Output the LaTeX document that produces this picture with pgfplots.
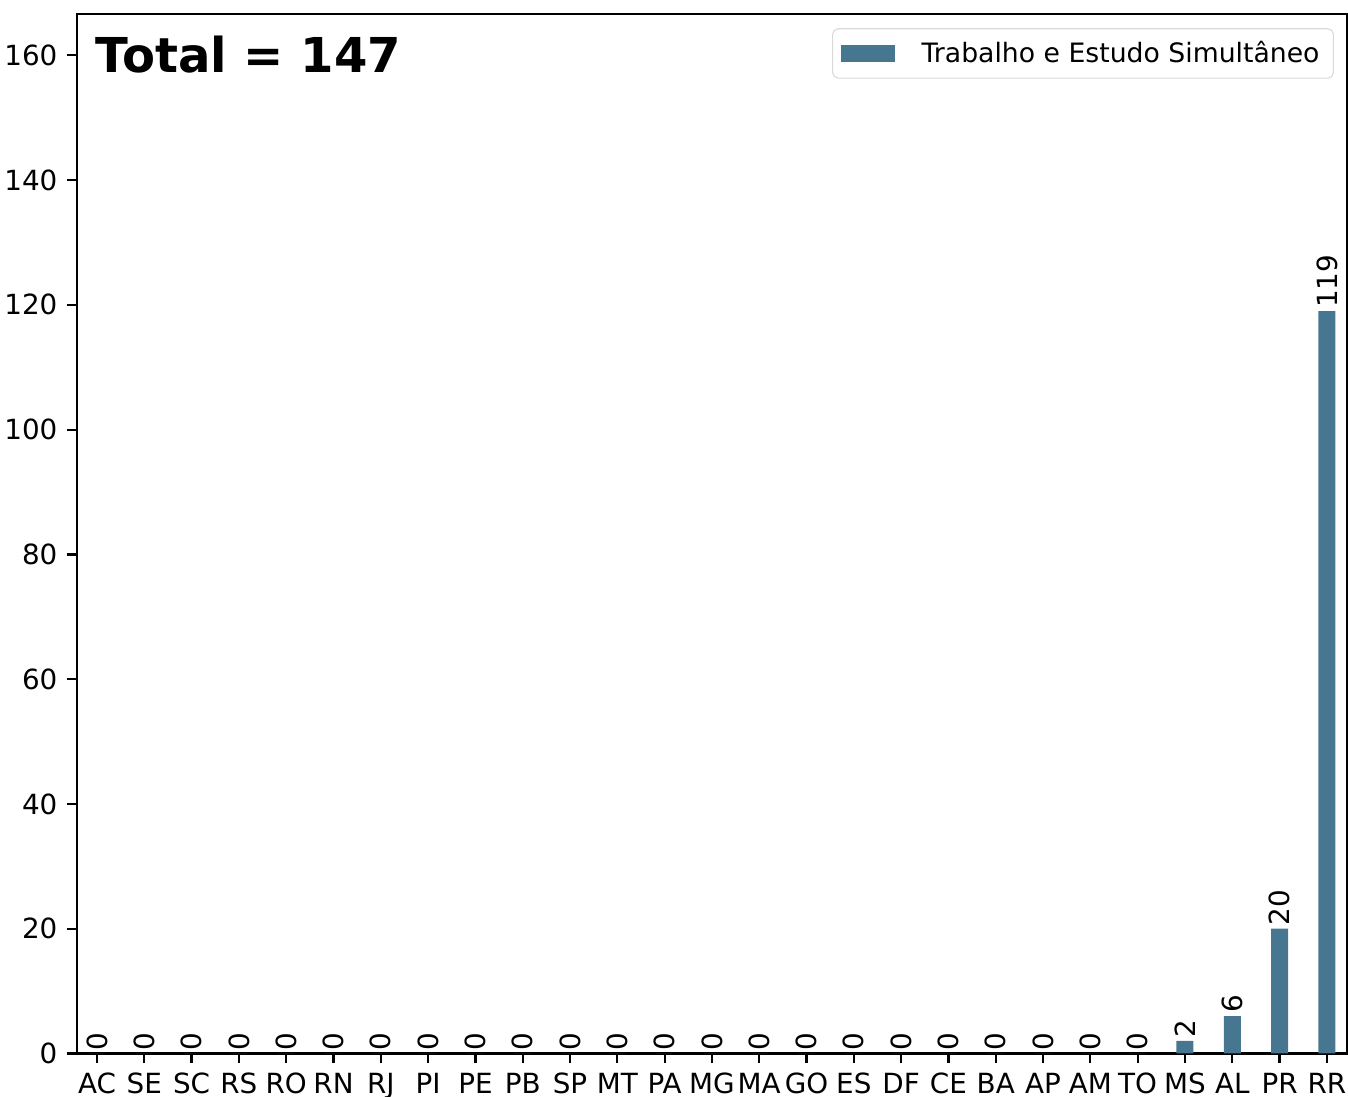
\documentclass[border=0pt]{standalone}
\usepackage{pgfplots}
\pgfplotsset{compat=1.18}
\usepackage{fontspec}
\setmainfont{DejaVu Sans}
\definecolor{barc}{RGB}{70,118,144}
\begin{document}
\begin{tikzpicture}
\useasboundingbox (-27.7pt,-15.5pt) rectangle (457.4pt,379.1pt);
\begin{axis}[
  at={(0pt,0pt)}, anchor=south west,
  scale only axis,
  width=457pt, height=374pt,
  xmin=-0.423, xmax=26.423,
  ymin=0, ymax=166.6,
  xtick={0,...,26},
  xticklabels={AC,SE,SC,RS,RO,RN,RJ,PI,PE,PB,SP,MT,PA,MG,MA,GO,ES,DF,CE,BA,AP,AM,TO,MS,AL,PR,RR},
  ytick={0,20,...,160},
  tick align=outside,
  tick pos=left,
  major tick length=3.5pt,
  tick style={black, line width=0.8pt},
  axis line style={line width=0.8pt},
  /pgf/number format/assume math mode=true,
  ticklabel style={font=\fontsize{10}{12}\selectfont},
  legend style={at={(rel axis cs:0.9898,0.9865)}, anchor=north east, draw=black!15, rounded corners=2pt, font=\fontsize{9.6}{11.5}\selectfont, inner xsep=3pt, inner ysep=2.3pt, column sep=7.5pt},
  legend image code/.code={\fill[barc, sharp corners] (0pt,-3.2pt) rectangle (19.5pt,3.2pt);},
  legend cell align=left,
  nodes near coords,
  every node near coord/.append style={rotate=90, anchor=west, inner sep=1pt, font=\fontsize{10}{12}\selectfont, black},
  clip=false,
]
\addplot[ybar, bar width=0.36, fill=barc, draw=none] coordinates {
(0,0) (1,0) (2,0) (3,0) (4,0) (5,0) (6,0) (7,0) (8,0) (9,0) (10,0) (11,0) (12,0) (13,0) (14,0) (15,0) (16,0) (17,0) (18,0) (19,0) (20,0) (21,0) (22,0) (23,2) (24,6) (25,20) (26,119)
};
\addlegendentry{Trabalho e Estudo Simultâneo}
\node[anchor=north west, inner sep=0pt, font=\fontsize{17.3}{20}\selectfont\bfseries] at ([xshift=6.5pt,yshift=-7.6pt]rel axis cs:0,1) {Total = 147};
\end{axis}
\end{tikzpicture}
\end{document}
